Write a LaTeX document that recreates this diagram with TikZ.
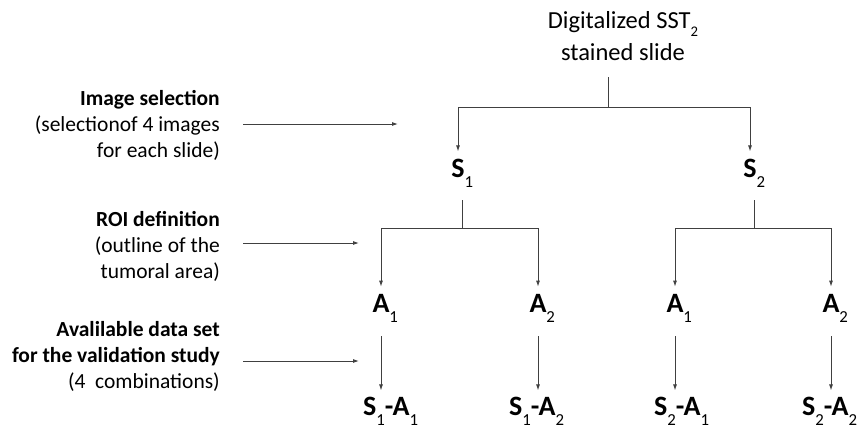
\documentclass[tikz,border=0pt]{standalone}
\usepackage{fontspec}
\setmainfont{Carlito}
\usetikzlibrary{arrows.meta}
% lowered, small subscript in medium weight
\newcommand\lowsub[1]{\raisebox{-0.36em}{\scalebox{0.6}{\mdseries #1}}}
\begin{document}
\begin{tikzpicture}[x=1pt,y=-1pt,
  conn/.style={draw=black!75, line width=0.9pt},
  arr/.style={conn,-{Latex[length=6pt,width=4pt]}},
  lvl/.style={font=\fontsize{28}{30}\selectfont\bfseries, inner sep=0pt, anchor=base},
  combo/.style={lvl, anchor=base west},
  note/.style={align=right, anchor=east, inner sep=0pt, font=\fontsize{21.5}{26}\selectfont},
  feed/.style={draw=black!75, line width=0.9pt, -{Latex[length=6pt,width=4pt]}}
]
\useasboundingbox (0,0) rectangle (864,429);

% root of the tree (base anchor sits on the last line)
\node[align=center, inner sep=0pt, font=\fontsize{24.5}{32}\selectfont, anchor=base] (root) at (623,60)
  {Digitalized SST\lowsub{2}\\stained slide};

% slide level
\node[lvl] (s1) at (458,177) {S\rlap{\lowsub{1}}};
\node[lvl] (s2) at (750,177) {S\rlap{\lowsub{2}}};

% area level
\node[lvl] (a11) at (381,312) {A\rlap{\lowsub{1}}};
\node[lvl] (a12) at (538,312) {A\rlap{\lowsub{2}}};
\node[lvl] (a21) at (675,312) {A\rlap{\lowsub{1}}};
\node[lvl] (a22) at (831,312) {A\rlap{\lowsub{2}}};

% combinations
\node[combo] (c11) at (363,415) {S\lowsub{1}-A\lowsub{1}};
\node[combo] (c12) at (509,415) {S\lowsub{1}-A\lowsub{2}};
\node[combo] (c21) at (654,415) {S\lowsub{2}-A\lowsub{1}};
\node[combo] (c22) at (802,415) {S\lowsub{2}-A\lowsub{2}};

% step descriptions on the left
\node[note] (n1) at (220,125) {\textbf{Image selection}\\(selectionof 4 images\\for each slide)};
\node[note] (n2) at (220,246) {\textbf{ROI definition}\\(outline of the\\tumoral area)};
\node[note] (n3) at (220,356) {\textbf{Avalilable data set}\\\textbf{for the validation study}\\(4\ \ combinations)};

% junction points of the branching connectors
\coordinate (j0) at (608,107);
\coordinate (j1) at (462,228);
\coordinate (j2) at (754,228);

% root to slides
\draw[conn] (j0 |- 0,77) -- (j0);
\draw[arr, shorten >=7pt] (j0) -| (s1.north);
\draw[arr, shorten >=7pt] (j0) -| (s2.north);

% slides to areas
\draw[conn] (j1 |- 0,200) -- (j1);
\draw[arr, shorten >=7pt] (j1) -| (a11.north);
\draw[arr, shorten >=7pt] (j1) -| (a12.north);
\draw[conn] (j2 |- 0,200) -- (j2);
\draw[arr, shorten >=7pt] (j2) -| (a21.north);
\draw[arr, shorten >=7pt] (j2) -| (a22.north);

% areas to combinations
\draw[arr, shorten <=14pt, shorten >=6pt] (a11.south) -- (a11.south |- c11.north);
\draw[arr, shorten <=14pt, shorten >=6pt] (a12.south) -- (a12.south |- c12.north);
\draw[arr, shorten <=14pt, shorten >=6pt] (a21.south) -- (a21.south |- c21.north);
\draw[arr, shorten <=14pt, shorten >=6pt] (a22.south) -- (a22.south |- c22.north);

% arrows from the step descriptions
\coordinate (e1) at (398,124);
\coordinate (e2) at (359,243);
\coordinate (e3) at (359,361);
\draw[feed] (e1 -| 243,0) -- (e1);
\draw[feed] (e2 -| 243,0) -- (e2);
\draw[feed] (e3 -| 243,0) -- (e3);
\end{tikzpicture}
\end{document}
